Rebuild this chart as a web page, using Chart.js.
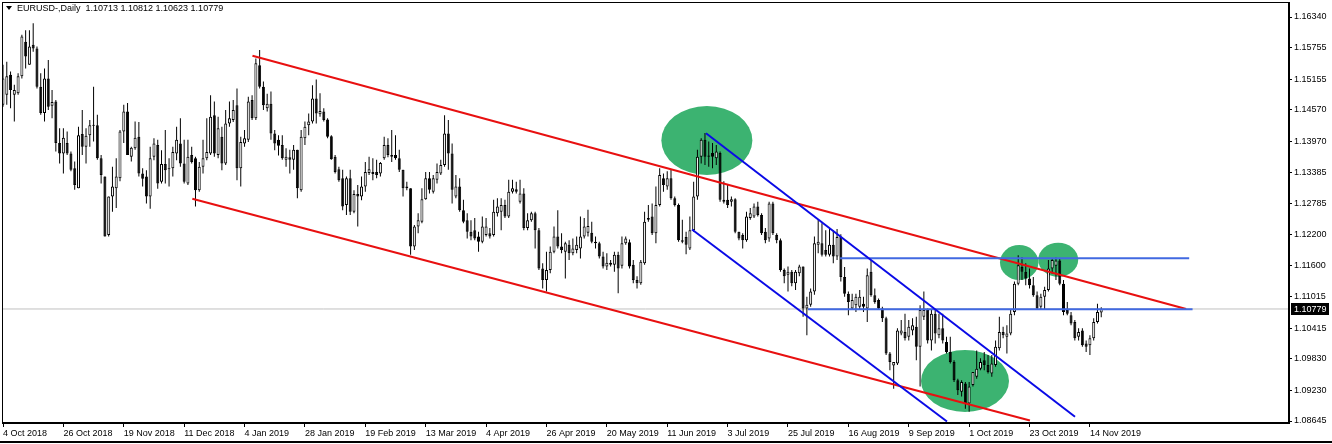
<!DOCTYPE html>
<html><head><meta charset="utf-8">
<script src="https://cdn.jsdelivr.net/npm/chart.js@4.4.1/dist/chart.umd.min.js"></script>
<style>
html,body{margin:0;padding:0;background:#fff;}
#wrap{position:relative;width:1332px;height:444px;overflow:hidden;background:#fff;}
#hdr{position:absolute;left:6px;top:2px;font:9px "Liberation Sans",Arial,sans-serif;color:#000;white-space:pre;line-height:12px;}
#tri{display:inline-block;width:0;height:0;border-left:3px solid transparent;border-right:3px solid transparent;border-top:4px solid #000;margin-right:5px;vertical-align:1px;}
#frameBottom{position:absolute;left:0;top:441px;width:1332px;height:2px;background:#000;}
</style></head>
<body>
<div id="wrap">
<canvas id="c" width="1332" height="444"></canvas>
<div id="hdr"><span id="tri"></span>EURUSD-,Daily  <span id="ohlc"></span></div>
<div id="frameBottom"></div>
</div>
<script>
// ---- daily bars (index 0 = 4 Oct 2018) ----
const barOpen = [
1.1467,1.1486,1.1524,1.1486,1.1489,1.1521,1.1587,1.1543,1.1581,1.1574,
1.1501,1.1451,1.1517,1.1465,1.1473,1.1394,1.1374,1.1394,1.1374,1.1346,
1.1308,1.1411,1.1387,1.1409,1.1428,1.1428,1.1365,1.1330,1.1219,1.1292,
1.1308,1.1327,1.1416,1.1454,1.1368,1.1384,1.1406,1.1336,1.1330,1.1292,
1.1368,1.1390,1.1320,1.1354,1.1344,1.1346,1.1374,1.1393,1.1355,1.1317,
1.1371,1.1365,1.1304,1.1349,1.1365,1.1374,1.1447,1.1371,1.1406,1.1355,
1.1431,1.1438,1.1466,1.1346,1.1393,1.1400,1.1476,1.1441,1.1542,1.1501,
1.1460,1.1469,1.1412,1.1400,1.1390,1.1362,1.1367,1.1362,1.1381,1.1304,
1.1403,1.1428,1.1435,1.1479,1.1449,1.1454,1.1439,1.1407,1.1368,1.1344,
1.1327,1.1276,1.1327,1.1263,1.1297,1.1292,1.1311,1.1337,1.1339,1.1339,
1.1336,1.1365,1.1390,1.1371,1.1371,1.1365,1.1343,1.1311,1.1308,1.1197,
1.1235,1.1244,1.1287,1.1327,1.1301,1.1324,1.1336,1.1352,1.1412,1.1374,
1.1292,1.1311,1.1266,1.1247,1.1225,1.1228,1.1216,1.1206,1.1219,1.1222,
1.1219,1.1260,1.1263,1.1276,1.1254,1.1301,1.1306,1.1282,1.1298,1.1232,
1.1247,1.1260,1.1228,1.1155,1.1133,1.1152,1.1187,1.1216,1.1197,1.1187,
1.1200,1.1184,1.1190,1.1193,1.1216,1.1223,1.1223,1.1206,1.1203,1.1178,
1.1159,1.1166,1.1162,1.1181,1.1160,1.1203,1.1205,1.1162,1.1133,1.1127,
1.1165,1.1248,1.1254,1.1222,1.1276,1.1327,1.1311,1.1327,1.1289,1.1276,
1.1209,1.1215,1.1193,1.1228,1.1292,1.1368,1.1400,1.1370,1.1375,1.1365,
1.1375,1.1286,1.1286,1.1282,1.1287,1.1225,1.1219,1.1209,1.1251,1.1254,
1.1273,1.1257,1.1225,1.1212,1.1279,1.1219,1.1209,1.1152,1.1143,1.1149,
1.1127,1.1146,1.1159,1.1079,1.1086,1.1111,1.1200,1.1203,1.1190,1.1181,
1.1200,1.1178,1.1215,1.1139,1.1107,1.1079,1.1085,1.1082,1.1088,1.1079,
1.1149,1.1104,1.1095,1.1079,1.1060,1.0993,1.0970,1.0974,1.1031,1.1034,
1.1025,1.1037,1.1044,1.1006,1.1063,1.1076,1.1018,1.1069,1.1028,1.1041,
1.1015,1.0996,1.0977,1.0942,1.0920,1.0936,1.0898,1.0933,1.0949,1.0964,
1.0980,1.0971,1.0955,1.0971,1.1003,1.1034,1.1025,1.1031,1.1072,1.1126,
1.1158,1.1149,1.1136,1.1123,1.1104,1.1082,1.1101,1.1114,1.1155,1.1160,
1.1170,1.1126,1.1076,1.1066,1.1053,1.1025,1.1037,1.1012,1.1009,1.1022,
1.1053,1.10713];
const barHigh = [
1.1543,1.1549,1.1530,1.1505,1.1527,1.1600,1.1609,1.1609,1.1622,1.1578,
1.1527,1.1536,1.1552,1.1495,1.1476,1.1422,1.1422,1.1416,1.1378,1.1359,
1.1425,1.1457,1.1422,1.1438,1.1501,1.1448,1.1371,1.1330,1.1292,1.1349,
1.1365,1.1419,1.1467,1.1470,1.1387,1.1435,1.1434,1.1346,1.1342,1.1387,
1.1403,1.1400,1.1380,1.1419,1.1365,1.1387,1.1425,1.1441,1.1400,1.1400,
1.1387,1.1368,1.1358,1.1400,1.1441,1.1485,1.1473,1.1444,1.1425,1.1457,
1.1473,1.1476,1.1498,1.1406,1.1419,1.1482,1.1485,1.1555,1.1571,1.1511,
1.1488,1.1492,1.1419,1.1409,1.1409,1.1384,1.1381,1.1390,1.1381,1.1419,
1.1435,1.1450,1.1504,1.1515,1.1489,1.1460,1.1441,1.1409,1.1371,1.1349,
1.1343,1.1330,1.1343,1.1304,1.1314,1.1330,1.1358,1.1368,1.1365,1.1362,
1.1358,1.1406,1.1403,1.1419,1.1409,1.1381,1.1343,1.1320,1.1308,1.1238,
1.1260,1.1308,1.1339,1.1339,1.1333,1.1355,1.1362,1.1447,1.1438,1.1393,
1.1333,1.1327,1.1286,1.1260,1.1247,1.1251,1.1225,1.1254,1.1251,1.1232,
1.1286,1.1289,1.1289,1.1286,1.1324,1.1324,1.1320,1.1324,1.1308,1.1260,
1.1263,1.1263,1.1232,1.1165,1.1187,1.1197,1.1235,1.1266,1.1222,1.1206,
1.1209,1.1212,1.1216,1.1254,1.1251,1.1267,1.1244,1.1216,1.1206,1.1187,
1.1184,1.1171,1.1187,1.1187,1.1216,1.1216,1.1210,1.1171,1.1140,1.1171,
1.1263,1.1276,1.1279,1.1311,1.1346,1.1336,1.1340,1.1343,1.1292,1.1279,
1.1248,1.1225,1.1254,1.1320,1.1381,1.1403,1.1413,1.1397,1.1394,1.1390,
1.1378,1.1321,1.1314,1.1292,1.1289,1.1225,1.1222,1.1263,1.1270,1.1279,
1.1282,1.1260,1.1232,1.1282,1.1282,1.1222,1.1212,1.1155,1.1159,1.1152,
1.1152,1.1162,1.1159,1.1101,1.1117,1.1216,1.1248,1.1241,1.1228,1.1232,
1.1228,1.1230,1.1220,1.1158,1.1111,1.1107,1.1107,1.1114,1.1101,1.1155,
1.1171,1.1117,1.1098,1.1082,1.1063,1.0996,1.0977,1.1041,1.1057,1.1069,
1.1057,1.1060,1.1063,1.1085,1.1111,1.1079,1.1076,1.1076,1.1069,1.1069,
1.1025,1.1025,1.0980,1.0945,1.0942,1.0939,1.0939,1.0958,1.0999,1.0984,
1.0996,1.0990,1.0990,1.1018,1.1063,1.1044,1.1047,1.1076,1.1130,1.1180,
1.1177,1.1165,1.1155,1.1139,1.1111,1.1107,1.1120,1.1171,1.1174,1.1176,
1.1174,1.1133,1.1091,1.1072,1.1057,1.1041,1.1041,1.1018,1.1028,1.1060,
1.1088,1.10812];
const barLow = [
1.1463,1.1467,1.1460,1.1435,1.1486,1.1517,1.1536,1.1543,1.1568,1.1498,
1.1448,1.1435,1.1457,1.1441,1.1378,1.1355,1.1336,1.1371,1.1340,1.1305,
1.1308,1.1371,1.1355,1.1387,1.1397,1.1362,1.1317,1.1216,1.1216,1.1263,
1.1270,1.1321,1.1394,1.1371,1.1359,1.1381,1.1330,1.1311,1.1279,1.1269,
1.1361,1.1307,1.1317,1.1317,1.1311,1.1330,1.1361,1.1349,1.1317,1.1314,
1.1355,1.1273,1.1301,1.1336,1.1361,1.1371,1.1368,1.1365,1.1342,1.1352,
1.1425,1.1434,1.1323,1.1311,1.1387,1.1396,1.1438,1.1438,1.1498,1.1457,
1.1454,1.1400,1.1380,1.1370,1.1362,1.1349,1.1336,1.1343,1.1289,1.1301,
1.1390,1.1409,1.1431,1.1431,1.1444,1.1435,1.1403,1.1362,1.1336,1.1320,
1.1266,1.1257,1.1257,1.1260,1.1235,1.1285,1.1301,1.1333,1.1323,1.1327,
1.1330,1.1362,1.1367,1.1358,1.1362,1.1339,1.1292,1.1304,1.1181,1.1190,
1.1222,1.1241,1.1286,1.1298,1.1298,1.1317,1.1333,1.1349,1.1343,1.1279,
1.1289,1.1263,1.1241,1.1212,1.1209,1.1209,1.1187,1.1203,1.1216,1.1212,
1.1216,1.1254,1.1228,1.1251,1.1251,1.1298,1.1298,1.1279,1.1228,1.1228,
1.1244,1.1193,1.1152,1.1117,1.1111,1.1146,1.1184,1.1193,1.1184,1.1136,
1.1171,1.1180,1.1184,1.1174,1.1212,1.1216,1.1203,1.1193,1.1174,1.1155,
1.1152,1.1159,1.1149,1.1108,1.1155,1.1200,1.1155,1.1127,1.1117,1.1124,
1.1162,1.1244,1.1219,1.1203,1.1273,1.1301,1.1305,1.1286,1.1273,1.1206,
1.1203,1.1182,1.1190,1.1225,1.1286,1.1355,1.1352,1.1349,1.1346,1.1352,
1.1282,1.1279,1.1270,1.1273,1.1222,1.1209,1.1193,1.1206,1.1248,1.1251,
1.1254,1.1219,1.1203,1.1206,1.1219,1.1203,1.1149,1.1127,1.1111,1.1121,
1.1114,1.1140,1.1063,1.1028,1.1082,1.1105,1.1184,1.1178,1.1178,1.1178,
1.1165,1.1171,1.1130,1.1101,1.1066,1.1076,1.1072,1.1076,1.1072,1.1053,
1.1101,1.1088,1.1076,1.1053,1.0990,1.0961,1.0926,1.0971,1.1028,1.1018,
1.1018,1.1028,1.0980,1.0930,1.1057,1.1012,1.0999,1.1012,1.1022,1.1012,
1.0993,1.0974,1.0939,1.0914,1.0911,1.0888,1.0882,1.0930,1.0945,1.0961,
1.0961,1.0955,1.0949,1.0968,1.0999,1.1022,1.0993,1.1028,1.1066,1.1123,
1.1133,1.1123,1.1117,1.1101,1.1076,1.1076,1.1076,1.1111,1.1145,1.1133,
1.1123,1.1066,1.1066,1.1047,1.1018,1.1018,1.1006,1.0996,1.0990,1.1018,
1.1050,1.10623];
const barClose = [
1.1517,1.1521,1.1495,1.1495,1.1521,1.1597,1.1559,1.1578,1.1574,1.1501,
1.1451,1.1517,1.1463,1.1472,1.1394,1.1374,1.1404,1.1374,1.1343,1.1314,
1.1409,1.1387,1.1408,1.1428,1.1427,1.1365,1.1333,1.1216,1.1292,1.1311,
1.1330,1.1416,1.1454,1.1371,1.1385,1.1404,1.1336,1.1326,1.1292,1.1365,
1.1393,1.1317,1.1354,1.1342,1.1346,1.1377,1.1400,1.1355,1.1320,1.1368,
1.1358,1.1304,1.1349,1.1365,1.1377,1.1444,1.1374,1.1422,1.1355,1.1431,
1.1441,1.1457,1.1346,1.1396,1.1403,1.1473,1.1441,1.1546,1.1501,1.1466,
1.1469,1.1412,1.1393,1.1389,1.1365,1.1368,1.1362,1.1381,1.1308,1.1406,
1.1425,1.1435,1.1479,1.1450,1.1455,1.1438,1.1406,1.1363,1.1339,1.1323,
1.1273,1.1327,1.1263,1.1297,1.1292,1.1311,1.1339,1.1344,1.1335,1.1333,
1.1356,1.1390,1.1371,1.1368,1.1365,1.1343,1.1308,1.1308,1.1197,1.1235,
1.1247,1.1287,1.1327,1.1305,1.1327,1.1339,1.1352,1.1412,1.1374,1.1305,
1.1311,1.1266,1.1244,1.1225,1.1216,1.1212,1.1206,1.1235,1.1235,1.1216,
1.1263,1.1273,1.1276,1.1254,1.1301,1.1308,1.1301,1.1298,1.1232,1.1247,
1.1260,1.1228,1.1155,1.1133,1.1152,1.1187,1.1216,1.1197,1.1190,1.1203,
1.1184,1.1193,1.1200,1.1216,1.1235,1.1236,1.1206,1.1203,1.1178,1.1159,
1.1166,1.1162,1.1181,1.1155,1.1203,1.1212,1.1159,1.1133,1.1127,1.1168,
1.1244,1.1251,1.1222,1.1276,1.1333,1.1314,1.1327,1.1289,1.1276,1.1209,
1.1206,1.1200,1.1228,1.1292,1.1368,1.1400,1.1368,1.1368,1.1368,1.1378,
1.1286,1.1282,1.1276,1.1287,1.1225,1.1212,1.1209,1.1254,1.1260,1.1273,
1.1257,1.1222,1.1209,1.1279,1.1222,1.1209,1.1152,1.1140,1.1149,1.1127,
1.1149,1.1159,1.1079,1.1086,1.1111,1.1203,1.1206,1.1181,1.1181,1.1200,
1.1178,1.1215,1.1139,1.1107,1.1091,1.1095,1.1101,1.1101,1.1082,1.1142,
1.1104,1.1091,1.1079,1.1060,1.0993,1.0977,1.0977,1.1037,1.1037,1.1022,
1.1044,1.1047,1.1006,1.1076,1.1076,1.1018,1.1069,1.1031,1.1041,1.1018,
1.0996,1.0977,1.0942,1.0923,1.0939,1.0898,1.0930,1.0958,1.0964,1.0977,
1.0971,1.0958,1.0974,1.1006,1.1034,1.1028,1.1031,1.1069,1.1126,1.1161,
1.1149,1.1136,1.1123,1.1104,1.1079,1.1101,1.1114,1.1155,1.1171,1.1170,
1.1126,1.1072,1.1069,1.1050,1.1022,1.1034,1.1009,1.1006,1.1022,1.1053,
1.1072,1.10779];

// ---- axes ----
const priceTicks = [1.08645,1.09230,1.09830,1.10415,1.11015,1.11600,1.12200,1.12785,1.13385,1.13970,1.14570,1.15155,1.15755,1.16340];
const priceMin = 1.08607, priceMax = 1.16626;
const barMin = -0.265, barMax = 340.75;
const dateTickBars = [0,16,32,48,64,80,96,112,128,144,160,176,192,208,224,240,256,272,288];
const dateLabels = ['4 Oct 2018','26 Oct 2018','19 Nov 2018','11 Dec 2018','4 Jan 2019','28 Jan 2019','19 Feb 2019','13 Mar 2019','4 Apr 2019','26 Apr 2019','20 May 2019','11 Jun 2019','3 Jul 2019','25 Jul 2019','16 Aug 2019','9 Sep 2019','1 Oct 2019','23 Oct 2019','14 Nov 2019'];

// ---- drawn objects (bar index, price) ----
const redUpperBars = [66.1, 313.5], redUpperPrices = [1.15603, 1.10778];
const redLowerBars = [50.16, 272.1], redLowerPrices = [1.12879, 1.08653];
const blueUpperBars = [186.27, 284.05], blueUpperPrices = [1.14125, 1.08727];
const blueLowerBars = [182.56, 250.13], blueLowerPrices = [1.12292, 1.08636];
const levelHighBars = [221.8, 314.3], levelHighPrices = [1.11744, 1.11744];
const levelLowBars = [213.3, 315.2], levelLowPrices = [1.10773, 1.10773];
const zoneBars = [186.5, 254.9, 269.26, 279.6];
const zonePrices = [1.13988, 1.09407, 1.11664, 1.11717];
const zoneHalfBars = [12.06, 11.66, 5.09, 5.3];
const zoneHalfPrices = [0.00657, 0.0059, 0.00333, 0.00324];

const last = barClose.length - 1;
const lastClose = barClose[last];
document.getElementById('ohlc').textContent =
  [barOpen[last], barHigh[last], barLow[last], barClose[last]].map(v => v.toFixed(5)).join(' ');

const seg = (bars, prices) => bars.map((b, i) => ({x: b, y: prices[i]}));
const lineDs = (bars, prices, color, order) => ({
  type: 'line', data: seg(bars, prices), borderColor: color, borderWidth: 2,
  pointRadius: 0, fill: false, tension: 0, order
});

const zonePlugin = {
  id: 'zones',
  beforeDatasetsDraw(chart) {
    const {ctx, chartArea: a, scales: {x, y}} = chart;
    ctx.save();
    ctx.beginPath(); ctx.rect(a.left, a.top, a.right - a.left, a.bottom - a.top); ctx.clip();
    ctx.fillStyle = 'rgb(60,179,113)';
    zoneBars.forEach((b, k) => {
      const cx = x.getPixelForValue(b), cy = y.getPixelForValue(zonePrices[k]);
      const rx = Math.abs(x.getPixelForValue(b + zoneHalfBars[k]) - cx);
      const ry = Math.abs(y.getPixelForValue(zonePrices[k] + zoneHalfPrices[k]) - cy);
      ctx.beginPath(); ctx.ellipse(cx, cy, rx, ry, 0, 0, Math.PI * 2); ctx.fill();
    });
    ctx.restore();
  }
};
const chromePlugin = {
  id: 'chrome',
  afterDraw(chart) {
    const {ctx, chartArea: a, scales: {y}} = chart;
    ctx.save();
    ctx.strokeStyle = '#000'; ctx.lineWidth = 1;
    ctx.strokeRect(a.left + 0.5, a.top + 0.5, a.right - a.left - 1, a.bottom - a.top - 1);
    const py = Math.round(y.getPixelForValue(lastClose));
    ctx.fillStyle = '#000';
    ctx.fillRect(a.right + 2, py - 6, 38, 12);
    ctx.fillStyle = '#fff';
    ctx.font = '9px "Liberation Sans", Arial, sans-serif';
    ctx.textBaseline = 'middle'; ctx.textAlign = 'left';
    ctx.fillText(lastClose.toFixed(5), a.right + 5, py + 0.5);
    ctx.restore();
  }
};

Chart.defaults.font.family = '"Liberation Sans", Arial, sans-serif';
Chart.defaults.font.size = 9;
Chart.defaults.color = '#000';

new Chart(document.getElementById('c'), {
  type: 'bar',
  data: {
    datasets: [
      lineDs(blueUpperBars, blueUpperPrices, '#0a0ae6', 1),
      lineDs(blueLowerBars, blueLowerPrices, '#0a0ae6', 1),
      lineDs(levelHighBars, levelHighPrices, '#4169e1', 1),
      lineDs(levelLowBars, levelLowPrices, '#4169e1', 1),
      lineDs(redUpperBars, redUpperPrices, '#e81010', 2),
      lineDs(redLowerBars, redLowerPrices, '#e81010', 2),
      {
        type: 'bar', order: 4,
        data: barOpen.map((o, i) => ({x: i, y: [o, barClose[i]]})),
        backgroundColor: barOpen.map((o, i) => barClose[i] >= o ? '#ffffff' : '#000000'),
        borderColor: '#000', borderWidth: 1, borderSkipped: false,
        barThickness: 3, grouped: false, inflateAmount: 0, minBarLength: 1
      },
      {
        type: 'bar', order: 5,
        data: barLow.map((l, i) => ({x: i, y: [l, barHigh[i]]})),
        backgroundColor: '#000', borderWidth: 0,
        barThickness: 1, grouped: false, inflateAmount: 0
      },
      {
        type: 'line', order: 6,
        data: seg([barMin, barMax], [lastClose, lastClose]),
        borderColor: '#c0c0c0', borderWidth: 1, pointRadius: 0
      }
    ]
  },
  options: {
    responsive: false,
    devicePixelRatio: 1,
    animation: false,
    events: [],
    layout: {padding: {left: 2, top: 2, right: 0, bottom: 0}},
    plugins: {legend: {display: false}, tooltip: {enabled: false}},
    scales: {
      x: {
        type: 'linear', position: 'bottom', min: barMin, max: barMax, offset: false,
        grid: {offset: false, drawOnChartArea: false, drawTicks: true, tickLength: 4, color: '#000'},
        border: {display: true, color: '#000'},
        ticks: {
          align: 'start', autoSkip: false, maxRotation: 0, padding: 1, color: '#000',
          callback: (v) => { const k = dateTickBars.indexOf(v); return k >= 0 ? dateLabels[k] : ''; }
        },
        afterBuildTicks: (s) => { s.ticks = dateTickBars.map(v => ({value: v})); },
        afterFit: (s) => { s.height = 21; s.paddingLeft = 0; s.paddingRight = 0; }
      },
      y: {
        type: 'linear', position: 'right', min: priceMin, max: priceMax,
        grid: {drawOnChartArea: false, drawTicks: true, tickLength: 3, color: '#000'},
        border: {display: true, color: '#000'},
        ticks: {padding: 2, color: '#000', callback: (v) => Number(v).toFixed(5)},
        afterBuildTicks: (s) => { s.ticks = priceTicks.map(v => ({value: v})); },
        afterFit: (s) => { s.width = 43; s.paddingTop = 0; s.paddingBottom = 0; }
      }
    }
  },
  plugins: [zonePlugin, chromePlugin]
});
</script>
</body></html>
